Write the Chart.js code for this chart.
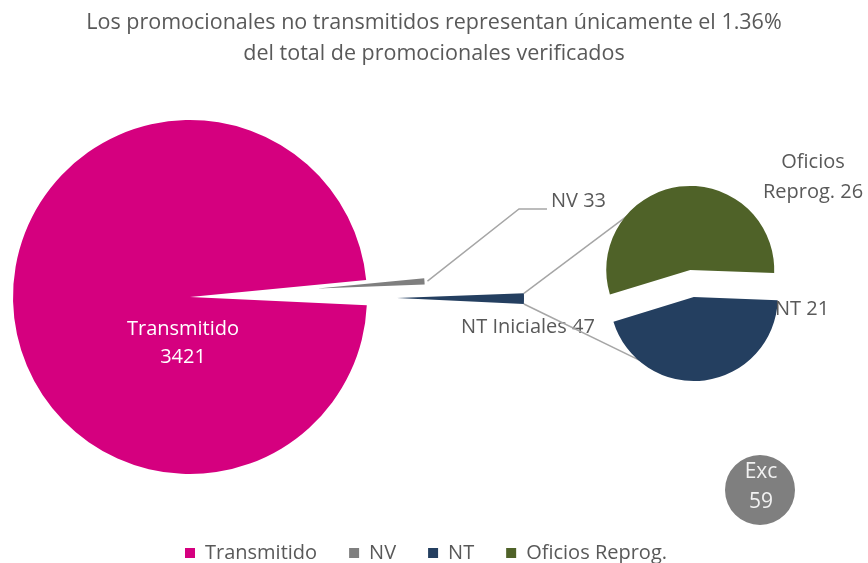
<!DOCTYPE html>
<html>
<head>
<meta charset="utf-8">
<script src="https://cdn.jsdelivr.net/npm/chart.js@4/dist/chart.umd.min.js"></script>
<style>
  html, body { margin: 0; padding: 0; background: #fff; }
  #wrap { position: relative; width: 868px; height: 563px; overflow: hidden; background: #fff; }
  #wrap canvas { position: absolute; left: 0; top: 0; }
</style>
</head>
<body>
<div id="wrap">
  <canvas id="frame" width="868" height="563"></canvas>
  <canvas id="legend" width="868" height="563"></canvas>
  <canvas id="main" width="868" height="563"></canvas>
  <canvas id="sub" width="868" height="563"></canvas>
  <canvas id="exc" width="868" height="563"></canvas>
</div>
<script>
// data
const titleLines = [
  "Los promocionales no transmitidos representan únicamente el 1.36%",
  "del total de promocionales verificados"
];
const mainLabels = ["Transmitido", "NV", "NT Iniciales"];
const mainValues = [3421, 33, 47];
const subLabels = ["Oficios Reprog.", "NT"];
const subValues = [26, 21];
const excLabels = ["Exc"];
const excValues = [59];
const legendLabels = ["Transmitido", "NV", "NT", "Oficios Reprog."];

const mainColors = ["#D5007F", "#7F7F7F", "#243F60"];
const subColors = ["#4F6228", "#243F60"];
const excColors = ["#7F7F7F"];
const legendColors = [mainColors[0], mainColors[1], subColors[1], subColors[0]];

const textColor = "#595959";
const fontFamily = "'Open Sans', 'Noto Sans', sans-serif";
Chart.defaults.font.family = fontFamily;
Chart.defaults.color = textColor;

// pulls slices out of the pie and trims their length
const explodePlugin = {
  id: "explode",
  afterDatasetUpdate(chart, args, opts) {
    args.meta.data.forEach((arc, i) => {
      const mid = (arc.startAngle + arc.endAngle) / 2;
      const d = (opts.distance || [])[i] || 0;
      arc.x += d * Math.cos(mid);
      arc.y += d * Math.sin(mid);
      const len = (opts.length || [])[i];
      if (len) arc.outerRadius = len;
    });
  }
};

// text labels "name value"
const labelPlugin = {
  id: "sliceLabels",
  afterDatasetsDraw(chart, args, opts) {
    const ctx = chart.ctx;
    const ds = chart.data.datasets[0];
    ctx.save();
    ctx.font = opts.size + "px " + fontFamily;
    ctx.textBaseline = "middle";
    (opts.items || []).forEach((it) => {
      const text = chart.data.labels[it.index] + " " + ds.data[it.index];
      const cut = text.indexOf(" ");
      const lines = it.wrap ? [text.slice(0, cut), text.slice(cut + 1)] : [text];
      ctx.fillStyle = it.color || textColor;
      ctx.textAlign = it.align || "center";
      lines.forEach((ln, k) => {
        ctx.fillText(ln, it.x, it.y + (k - (lines.length - 1) / 2) * opts.lineHeight);
      });
    });
    ctx.restore();
  }
};

// leader line for NV
const leaderPlugin = {
  id: "leader",
  beforeDatasetsDraw(chart, args, opts) {
    const arc = chart.getDatasetMeta(0).data[opts.index];
    if (!arc) return;
    const mid = (arc.startAngle + arc.endAngle) / 2;
    const r = arc.outerRadius + 3;
    const ctx = chart.ctx;
    ctx.save();
    ctx.strokeStyle = "#A6A6A6";
    ctx.lineWidth = 1.5;
    ctx.beginPath();
    ctx.moveTo(arc.x + r * Math.cos(mid), arc.y + r * Math.sin(mid));
    opts.points.forEach((p) => ctx.lineTo(p[0], p[1]));
    ctx.stroke();
    ctx.restore();
  }
};

// title only
const frameChart = new Chart(document.getElementById("frame"), {
  type: "pie",
  data: { labels: [], datasets: [] },
  options: {
    responsive: false,
    animation: false,
    events: [],
    plugins: {
      tooltip: { enabled: false },
      legend: { display: false },
      title: {
        display: true,
        text: titleLines,
        color: textColor,
        font: { size: 21.5, weight: "normal", lineHeight: 1.44 },
        padding: { top: 7, bottom: 10 }
      }
    }
  }
});

// legend only
const legendChart = new Chart(document.getElementById("legend"), {
  type: "pie",
  data: { labels: legendLabels, datasets: [] },
  options: {
    responsive: false,
    animation: false,
    events: [],
    layout: { padding: { bottom: -10, right: 16 } },
    plugins: {
      tooltip: { enabled: false },
      legend: {
        position: "bottom",
        labels: {
          boxWidth: 10,
          boxHeight: 10,
          padding: 32,
          color: textColor,
          font: { size: 20 },
          generateLabels: () =>
            legendLabels.map((text, i) => ({
              text,
              fillStyle: legendColors[i],
              strokeStyle: legendColors[i],
              lineWidth: 0,
              hidden: false,
              index: i,
              fontColor: textColor
            }))
        }
      }
    }
  }
});

const mainChart = new Chart(document.getElementById("main"), {
  type: "pie",
  data: {
    labels: mainLabels,
    datasets: [{
      data: mainValues,
      backgroundColor: mainColors,
      borderWidth: 0,
      radius: 177,
      rotation: 92.7,
      clip: false
    }]
  },
  options: {
    responsive: false,
    animation: false,
    events: [],
    layout: { padding: { left: 0, right: 488, top: 120, bottom: 89 } },
    plugins: {
      legend: { display: false },
      tooltip: { enabled: false },
      explode: { distance: [0, 128, 207], length: [0, 107, 127] },
      leader: { index: 1, points: [[519, 209], [547, 209]] },
      sliceLabels: {
        size: 20,
        lineHeight: 28,
        items: [
          { index: 0, x: 183, y: 343, color: "#FFFFFF", wrap: true },
          { index: 1, x: 551, y: 201, align: "left" },
          { index: 2, x: 528, y: 327 }
        ]
      }
    }
  },
  plugins: [explodePlugin, leaderPlugin, labelPlugin]
});

// pie-of-pie connector lines from the NT Iniciales slice
const connectorPlugin = {
  id: "connectors",
  beforeDatasetsDraw(chart, args, opts) {
    const src = mainChart.getDatasetMeta(0).data[mainLabels.indexOf("NT Iniciales")];
    const arcs = chart.getDatasetMeta(0).data;
    if (!src || arcs.length < 2) return;
    const r = src.outerRadius;
    const from = [
      [src.x + r * Math.cos(src.startAngle), src.y + r * Math.sin(src.startAngle)],
      [src.x + r * Math.cos(src.endAngle), src.y + r * Math.sin(src.endAngle)]
    ];
    const ctx = chart.ctx;
    ctx.save();
    ctx.strokeStyle = "#A6A6A6";
    ctx.lineWidth = 1.5;
    opts.angles.forEach((deg, k) => {
      const a = arcs[k];
      const t = (deg * Math.PI) / 180;
      ctx.beginPath();
      ctx.moveTo(from[k][0], from[k][1]);
      ctx.lineTo(a.x + (a.outerRadius - 2) * Math.cos(t), a.y + (a.outerRadius - 2) * Math.sin(t));
      ctx.stroke();
    });
    ctx.restore();
  }
};

const subChart = new Chart(document.getElementById("sub"), {
  type: "pie",
  data: {
    labels: subLabels,
    datasets: [{
      data: subValues,
      backgroundColor: subColors,
      borderWidth: 0,
      radius: 84,
      rotation: 253,
      clip: false
    }]
  },
  options: {
    responsive: false,
    animation: false,
    events: [],
    layout: { padding: { left: 520, right: 4, top: 100, bottom: 96 } },
    plugins: {
      legend: { display: false },
      tooltip: { enabled: false },
      explode: { distance: [13.7, 13.7] },
      connectors: { angles: [-136, 127] },
      sliceLabels: {
        size: 20,
        lineHeight: 30,
        items: [
          { index: 0, x: 813, y: 177, wrap: true },
          { index: 1, x: 775, y: 309, align: "left" }
        ]
      }
    }
  },
  plugins: [explodePlugin, connectorPlugin, labelPlugin]
});

const excChart = new Chart(document.getElementById("exc"), {
  type: "pie",
  data: {
    labels: excLabels,
    datasets: [{
      data: excValues,
      backgroundColor: excColors,
      borderWidth: 0,
      radius: 35,
      clip: false
    }]
  },
  options: {
    responsive: false,
    animation: false,
    events: [],
    layout: { padding: { left: 700, right: 48, top: 440, bottom: 23 } },
    plugins: {
      legend: { display: false },
      tooltip: { enabled: false },
      sliceLabels: {
        size: 21,
        lineHeight: 30,
        items: [{ index: 0, x: 761, y: 487, color: "#F2F2F2", wrap: true }]
      }
    }
  },
  plugins: [labelPlugin]
});
</script>
</body>
</html>
